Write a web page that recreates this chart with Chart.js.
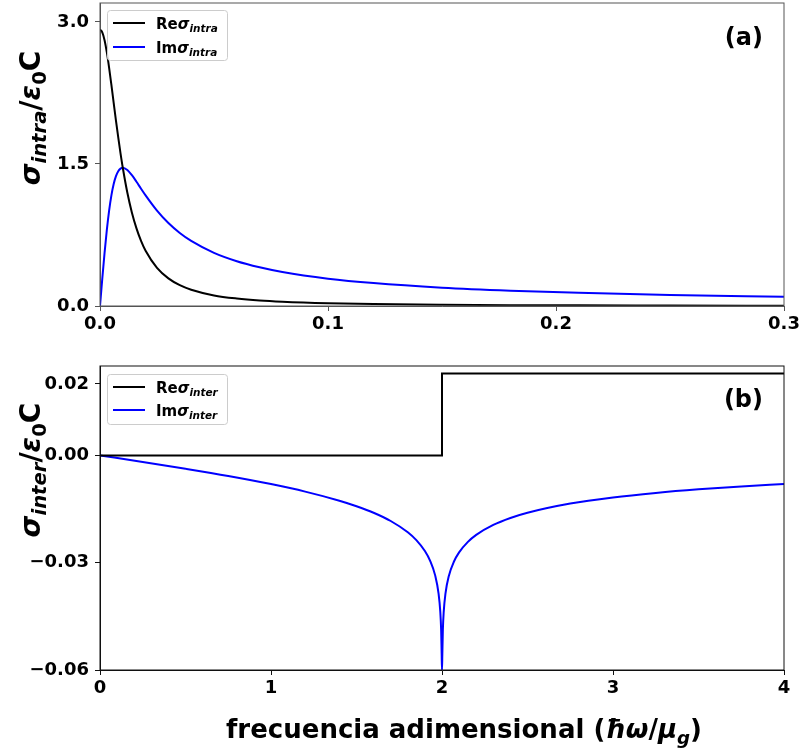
<!DOCTYPE html>
<html>

<head>
    <meta charset="UTF-8">
    <title>Conductividad intra / inter banda</title>
    <script src="https://cdn.jsdelivr.net/npm/chart.js"></script>
    <style>
        body {
            margin: 0;
            background-color: #fff;
            font-family: 'DejaVu Sans', sans-serif;
        }

        .panel {
            position: absolute;
            left: 0;
            width: 801px;
        }

        #panelA { top: 0; height: 340px; }
        #panelB { top: 340px; height: 412px; }
    </style>
</head>

<body>
    <div id="panelA" class="panel"><canvas id="intraChart"></canvas></div>
    <div id="panelB" class="panel"><canvas id="interChart"></canvas></div>

    <script>
        // (a) intraband conductivity
        var xIntra = [0, 0.001, 0.002, 0.003, 0.004, 0.005, 0.006, 0.007, 0.008, 0.009, 0.010,
            0.012, 0.014, 0.016, 0.018, 0.020, 0.025, 0.030, 0.035, 0.040, 0.050, 0.060,
            0.070, 0.080, 0.100, 0.120, 0.150, 0.180, 0.210, 0.250, 0.300];
        var reIntra = [2.919, 2.890, 2.807, 2.678, 2.516, 2.335, 2.146, 1.959, 1.780, 1.613, 1.460,
            1.196, 0.986, 0.820, 0.688, 0.584, 0.403, 0.292, 0.220, 0.172, 0.112, 0.079,
            0.058, 0.045, 0.029, 0.020, 0.013, 0.009, 0.007, 0.005, 0.003];
        var imIntra = [0, 0.289, 0.561, 0.803, 1.007, 1.168, 1.288, 1.371, 1.424, 1.451, 1.460,
            1.436, 1.381, 1.312, 1.239, 1.168, 1.007, 0.876, 0.771, 0.687, 0.561, 0.473,
            0.409, 0.359, 0.289, 0.242, 0.194, 0.162, 0.139, 0.117, 0.097];

        // (b) interband conductivity
        var xReInter = [0, 2, 2, 4];
        var reInter = [0, 0, 0.0229, 0.0229];
        var xImInter = [0, 0.25, 0.5, 0.75, 1.0, 1.2, 1.4, 1.5, 1.6, 1.7, 1.8, 1.85, 1.9, 1.93,
            1.96, 1.98, 1.99, 1.995, 1.998, 2.0, 2.002, 2.005, 2.01, 2.02, 2.04, 2.07, 2.1,
            2.15, 2.2, 2.3, 2.4, 2.5, 2.75, 3.0, 3.25, 3.5, 3.75, 4.0];
        var imInter = [0, -0.00183, -0.00373, -0.00575, -0.00802, -0.01012, -0.01266, -0.01420,
            -0.01604, -0.01834, -0.02149, -0.02369, -0.02674, -0.02940, -0.03354, -0.03864,
            -0.04372, -0.04879, -0.05548, -0.06000, -0.05549, -0.04881, -0.04376, -0.03871,
            -0.03369, -0.02966, -0.02711, -0.02424, -0.02222, -0.01944, -0.01750, -0.01604,
            -0.01347, -0.01175, -0.01048, -0.00948, -0.00868, -0.00802];

        // tick labels
        var xTicksA = [0, 0.1, 0.2, 0.3];
        var xLabelsA = ['0.0', '0.1', '0.2', '0.3'];
        var yTicksA = [0, 1.5, 3.0];
        var yLabelsA = ['0.0', '1.5', '3.0'];
        var xTicksB = [0, 1, 2, 3, 4];
        var xLabelsB = ['0', '1', '2', '3', '4'];
        var yTicksB = [-0.06, -0.03, 0, 0.02];
        var yLabelsB = ['\u22120.06', '\u22120.03', '0.00', '0.02'];

        var FONT = "'DejaVu Sans', 'Liberation Sans', sans-serif";

        function fontOf(style, px) {
            return (style === 'bi' ? 'italic bold ' : 'bold ') + px + 'px ' + FONT;
        }

        // text with sub-scripts: segments are [text, style, scale, shift]
        function richWidth(ctx, segs, size) {
            var w = 0;
            segs.forEach(function (s) {
                ctx.font = fontOf(s[1], size * s[2]);
                w += ctx.measureText(s[0]).width;
            });
            return w;
        }

        function drawRich(ctx, segs, x, y, size) {
            var cx = x;
            segs.forEach(function (s) {
                ctx.font = fontOf(s[1], size * s[2]);
                ctx.fillText(s[0], cx, y + s[3] * size);
                cx += ctx.measureText(s[0]).width;
            });
        }

        function pts(xs, ys) {
            return xs.map(function (x, i) { return { x: x, y: ys[i] }; });
        }

        function legendBox(ctx, x, y, w, h, rows) {
            ctx.save();
            ctx.fillStyle = 'rgba(255,255,255,0.8)';
            ctx.strokeStyle = '#cccccc';
            ctx.lineWidth = 1;
            ctx.beginPath();
            ctx.roundRect(x + 0.5, y + 0.5, w, h, 3);
            ctx.fill();
            ctx.stroke();
            rows.forEach(function (r) {
                ctx.strokeStyle = r.color;
                ctx.lineWidth = 2;
                ctx.beginPath();
                ctx.moveTo(x + 6, r.y);
                ctx.lineTo(x + 38, r.y);
                ctx.stroke();
                ctx.fillStyle = '#000';
                ctx.textBaseline = 'alphabetic';
                drawRich(ctx, r.segs, x + 49, r.y + 5.5, 15);
            });
            ctx.restore();
        }

        function decorPlugin(cfg) {
            return {
                id: 'decor',
                afterDraw: function (chart) {
                    var ctx = chart.ctx, a = chart.chartArea;
                    ctx.save();
                    // frame on all four sides
                    ctx.strokeStyle = cfg.spine;
                    ctx.lineWidth = 1;
                    ctx.strokeRect(a.left, a.top, a.right - a.left, a.bottom - a.top);

                    legendBox(ctx, cfg.legend.x, cfg.legend.y, 120, 50, cfg.legend.rows);

                    // panel label
                    ctx.fillStyle = '#000';
                    ctx.font = fontOf('b', 24);
                    ctx.textAlign = 'right';
                    ctx.textBaseline = 'middle';
                    ctx.fillText(cfg.panel.text, cfg.panel.x, cfg.panel.y);

                    // rotated y title
                    ctx.textAlign = 'left';
                    ctx.textBaseline = 'alphabetic';
                    var w = richWidth(ctx, cfg.yTitle.segs, 28);
                    ctx.save();
                    ctx.translate(cfg.yTitle.x, cfg.yTitle.y);
                    ctx.rotate(-Math.PI / 2);
                    drawRich(ctx, cfg.yTitle.segs, -w / 2, 0, 28);
                    ctx.restore();

                    if (cfg.xTitle) {
                        var wx = richWidth(ctx, cfg.xTitle.segs, 26);
                        drawRich(ctx, cfg.xTitle.segs, cfg.xTitle.x - wx / 2, cfg.xTitle.y, 26);
                    }
                    ctx.restore();
                }
            };
        }

        function axis(min, max, ticks, labels, spine, vertical, size) {
            return {
                type: 'linear',
                min: min,
                max: max,
                grid: { drawOnChartArea: false, drawTicks: true, tickLength: 5, color: spine, lineWidth: 1 },
                border: { display: true, color: spine, width: 1 },
                ticks: {
                    color: '#000',
                    padding: vertical ? 6 : 3,
                    font: { family: FONT, size: 18, weight: 'bold' },
                    callback: function (v, i) { return labels[i]; }
                },
                afterBuildTicks: function (scale) {
                    scale.ticks = ticks.map(function (t) { return { value: t }; });
                },
                afterFit: function (scale) {
                    if (vertical) scale.width = size; else scale.height = size;
                    scale.paddingTop = 0; scale.paddingBottom = 0;
                    scale.paddingLeft = 0; scale.paddingRight = 0;
                }
            };
        }

        Chart.defaults.animation = false;

        var spineA = '#555555';
        new Chart(document.getElementById('intraChart'), {
            type: 'line',
            data: {
                datasets: [{
                    label: 'Re intra',
                    data: pts(xIntra, reIntra),
                    borderColor: '#000000',
                    borderWidth: 2,
                    pointRadius: 0,
                    fill: false,
                    cubicInterpolationMode: 'monotone'
                }, {
                    label: 'Im intra',
                    data: pts(xIntra, imIntra),
                    borderColor: '#0000ff',
                    borderWidth: 2,
                    pointRadius: 0,
                    fill: false,
                    cubicInterpolationMode: 'monotone'
                }]
            },
            options: {
                responsive: true,
                maintainAspectRatio: false,
                layout: { padding: { top: 3, right: 17, left: 0, bottom: 0 } },
                plugins: { legend: { display: false }, tooltip: { enabled: false } },
                scales: {
                    x: axis(0, 0.3, xTicksA, xLabelsA, spineA, false, 34),
                    y: axis(0, 3.2, yTicksA, yLabelsA, spineA, true, 100)
                }
            },
            plugins: [decorPlugin({
                spine: spineA,
                legend: {
                    x: 107, y: 10, rows: [
                        { color: '#000000', y: 23, segs: [['Re', 'b', 1, 0], ['\u03c3', 'bi', 1, 0], ['intra', 'bi', 0.7, 0.22]] },
                        { color: '#0000ff', y: 47, segs: [['Im', 'b', 1, 0], ['\u03c3', 'bi', 1, 0], ['intra', 'bi', 0.7, 0.22]] }
                    ]
                },
                panel: { text: '(a)', x: 763, y: 39 },
                yTitle: { x: 40, y: 118, segs: [['\u03c3', 'bi', 1, 0], ['intra', 'bi', 0.7, 0.22], ['/', 'b', 1, 0], ['\u03b5', 'bi', 1, 0], ['0', 'b', 0.7, 0.22], ['C', 'b', 1, 0]] }
            })]
        });

        var spineB = '#111111';
        new Chart(document.getElementById('interChart'), {
            type: 'line',
            data: {
                datasets: [{
                    label: 'Re inter',
                    data: pts(xReInter, reInter),
                    borderColor: '#000000',
                    borderWidth: 2,
                    pointRadius: 0,
                    fill: false,
                    tension: 0
                }, {
                    label: 'Im inter',
                    data: pts(xImInter, imInter),
                    borderColor: '#0000ff',
                    borderWidth: 2,
                    pointRadius: 0,
                    fill: false,
                    cubicInterpolationMode: 'monotone'
                }]
            },
            options: {
                responsive: true,
                maintainAspectRatio: false,
                layout: { padding: { top: 26, right: 17, left: 0, bottom: 0 } },
                plugins: { legend: { display: false }, tooltip: { enabled: false } },
                scales: {
                    x: axis(0, 4, xTicksB, xLabelsB, spineB, false, 82),
                    y: axis(-0.06, 0.025, yTicksB, yLabelsB, spineB, true, 100)
                }
            },
            plugins: [decorPlugin({
                spine: spineB,
                legend: {
                    x: 107, y: 34, rows: [
                        { color: '#000000', y: 47, segs: [['Re', 'b', 1, 0], ['\u03c3', 'bi', 1, 0], ['inter', 'bi', 0.7, 0.22]] },
                        { color: '#0000ff', y: 70, segs: [['Im', 'b', 1, 0], ['\u03c3', 'bi', 1, 0], ['inter', 'bi', 0.7, 0.22]] }
                    ]
                },
                panel: { text: '(b)', x: 763, y: 61 },
                yTitle: { x: 40, y: 130, segs: [['\u03c3', 'bi', 1, 0], ['inter', 'bi', 0.7, 0.22], ['/', 'b', 1, 0], ['\u03b5', 'bi', 1, 0], ['0', 'b', 0.7, 0.22], ['C', 'b', 1, 0]] },
                xTitle: { x: 464, y: 398, segs: [['frecuencia adimensional (', 'b', 1, 0], ['\u0127\u03c9', 'bi', 1, 0], ['/', 'b', 1, 0], ['\u03bc', 'bi', 1, 0], ['g', 'bi', 0.7, 0.22], [')', 'b', 1, 0]] }
            })]
        });
    </script>
</body>

</html>
